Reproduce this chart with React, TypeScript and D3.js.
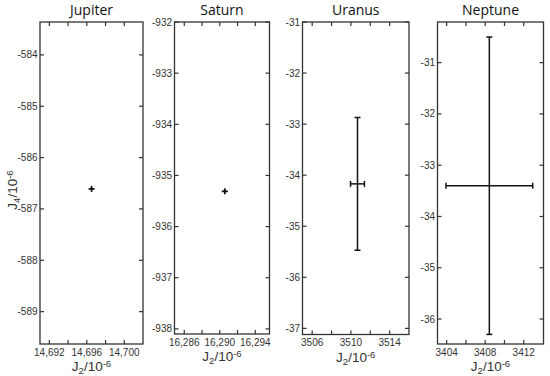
import React from "react";
import * as d3 from "d3";

// ---- data ----
const planets = ["Jupiter", "Saturn", "Uranus", "Neptune"];
const j2 = [14696.51, 16290.57, 3510.68, 3408.43];
const j2Err = [0.01, 0.01, 0.72, 4.5];
const j4 = [-586.61, -935.31, -34.17, -33.4];
const j4Err = [0.01, 0.01, 1.3, 2.9];

// axis domains and ticks
const xDomains: [number, number][] = [
  [14691, 14702],
  [16284.9, 16295.6],
  [3505, 3516],
  [3403.05, 3414.05],
];
const yDomains: [number, number][] = [
  [-583.36, -589.63],
  [-932, -938.1],
  [-31, -37.12],
  [-30.207, -36.487],
];
const xMajorTicks = [
  [14692, 14696, 14700],
  [16286, 16290, 16294],
  [3506, 3510, 3514],
  [3404, 3408, 3412],
];
const xMinorTicks = [
  [14694, 14698],
  [16288, 16292],
  [3508, 3512],
  [3406, 3410],
];
const yTicks = [
  [-584, -585, -586, -587, -588, -589],
  [-932, -933, -934, -935, -936, -937, -938],
  [-31, -32, -33, -34, -35, -36, -37],
  [-31, -32, -33, -34, -35, -36],
];

// ---- layout ----
const panelLeft = [40, 174.5, 302.5, 437.5];
const panelRight = [143, 269.5, 409, 543.5];
const panelTop = [22, 22, 22, 22];
const panelBottom = [344, 334, 334.5, 344];

const frameColor = "#333";
const textColor = "#333";
const tickLen = 4;
const sans = "'Liberation Sans', Arial, Helvetica, sans-serif";
const fmt = (v: number) => (Math.abs(v) >= 10000 ? d3.format(",")(v) : String(v));

function Panel({ i }: { i: number }) {
  const x = d3.scaleLinear().domain(xDomains[i]).range([panelLeft[i], panelRight[i]]);
  const y = d3.scaleLinear().domain(yDomains[i]).range([panelTop[i], panelBottom[i]]);
  const L = panelLeft[i], R = panelRight[i], T = panelTop[i], B = panelBottom[i];
  const cx = x(j2[i]);
  const cy = y(j4[i]);
  const x0 = x(j2[i] - j2Err[i]);
  const x1 = x(j2[i] + j2Err[i]);
  const y0 = y(j4[i] + j4Err[i]);
  const y1 = y(j4[i] - j4Err[i]);
  const cap = 3;
  const allX = [...xMajorTicks[i], ...xMinorTicks[i]];
  const mid = (L + R) / 2;
  const small = j2Err[i] < 0.1 && j4Err[i] < 0.1;
  return (
    <g>
      <text x={mid} y={15} textAnchor="middle" fontFamily="'Open Sans', sans-serif" fontSize={14} fill="#111">
        {planets[i]}
      </text>
      <rect x={L} y={T} width={R - L} height={B - T} fill="none" stroke={frameColor} strokeWidth={1.3} />
      {allX.map((t) => (
        <g key={"x" + t}>
          <line x1={x(t)} x2={x(t)} y1={B} y2={B - tickLen} stroke={frameColor} strokeWidth={1.2} />
          <line x1={x(t)} x2={x(t)} y1={T} y2={T + tickLen} stroke={frameColor} strokeWidth={1.2} />
        </g>
      ))}
      {xMajorTicks[i].map((t) => (
        <text key={"xl" + t} x={x(t)} y={B + 11.5} textAnchor="middle" fontFamily={sans} fontSize={10} fill={textColor}>
          {fmt(t)}
        </text>
      ))}
      {yTicks[i].map((t) => (
        <g key={"y" + t}>
          <line x1={L} x2={L + tickLen} y1={y(t)} y2={y(t)} stroke={frameColor} strokeWidth={1.2} />
          <line x1={R} x2={R - tickLen} y1={y(t)} y2={y(t)} stroke={frameColor} strokeWidth={1.2} />
          <text x={L - 2.5} y={y(t) + 3.5} textAnchor="end" fontFamily={sans} fontSize={10} fill={textColor}>
            {t}
          </text>
        </g>
      ))}
      <text x={mid} y={B + 27} textAnchor="middle" fontFamily={sans} fontSize={13.5} fill={textColor}>
        J<tspan fontSize={9.5} dy={3}>2</tspan>
        <tspan dy={-3}>/10</tspan>
        <tspan fontSize={9.5} dy={-4}>-6</tspan>
      </text>
      {/* error bars */}
      <g stroke="#111" strokeWidth={1.5}>
        {small ? (
          <>
            <line x1={cx - 3} x2={cx + 3} y1={cy} y2={cy} strokeWidth={1.8} />
            <line x1={cx} x2={cx} y1={cy - 3} y2={cy + 3} strokeWidth={1.8} />
          </>
        ) : (
          <>
            <line x1={cx} x2={cx} y1={y0} y2={y1} />
            <line x1={x0} x2={x1} y1={cy} y2={cy} />
            <line x1={cx - cap} x2={cx + cap} y1={y0} y2={y0} />
            <line x1={cx - cap} x2={cx + cap} y1={y1} y2={y1} />
            <line x1={x0} x2={x0} y1={cy - cap} y2={cy + cap} />
            <line x1={x1} x2={x1} y1={cy - cap} y2={cy + cap} />
          </>
        )}
      </g>
    </g>
  );
}

export default function App() {
  return (
    <svg width={550} height={376} style={{ position: "absolute", left: 0, top: 0, background: "#fff" }}>
      <rect width={550} height={376} fill="#fff" />
      {planets.map((_, i) => (
        <Panel key={i} i={i} />
      ))}
      <text
        transform="translate(17,190) rotate(-90)"
        textAnchor="middle"
        fontFamily={sans}
        fontSize={13.5}
        fill={textColor}
      >
        J<tspan fontSize={9.5} dy={3}>4</tspan>
        <tspan dy={-3}>/10</tspan>
        <tspan fontSize={9.5} dy={-4}>-6</tspan>
      </text>
    </svg>
  );
}
